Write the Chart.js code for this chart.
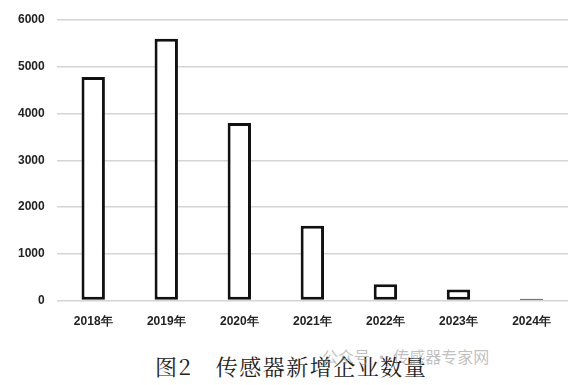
<!DOCTYPE html>
<html>
<head>
<meta charset="utf-8">
<script src="https://cdn.jsdelivr.net/npm/chart.js@4"></script>
<style>
  html, body { margin: 0; padding: 0; background: #fff; }
  #wrap { position: relative; width: 586px; height: 385px; }
  #box { position: absolute; left: 0; top: 0; width: 586px; height: 339px; }
  #caption {
    position: absolute; left: 155px; top: 350px;
    font-family: "Noto Serif CJK SC", "Noto Sans CJK SC", serif;
    font-size: 22px; letter-spacing: 1.5px; color: #222; white-space: pre;
  }
  #mark {
    position: absolute; left: 322px; top: 344px;
    font-family: "Noto Sans CJK SC", sans-serif;
    font-size: 16px; color: rgba(150,150,150,0.6); white-space: pre;
  }
</style>
</head>
<body>
<div id="wrap">
  <div id="box"><canvas id="chart"></canvas></div>
  <div id="caption">图2　传感器新增企业数量</div>
  <div id="mark">公众号 · 传感器专家网</div>
</div>
<script>
const years = ["2018年", "2019年", "2020年", "2021年", "2022年", "2023年", "2024年"];
const newFirms = [4780, 5600, 3800, 1600, 350, 240, 40];
const yTicks = [0, 1000, 2000, 3000, 4000, 5000, 6000];

const ctx = document.getElementById("chart");
new Chart(ctx, {
  type: "bar",
  data: {
    labels: years,
    datasets: [
      {
        data: newFirms,
        backgroundColor: "#ffffff",
        borderColor: "#111111",
        borderWidth: 3,
        borderSkipped: false,
        barPercentage: 0.64,
        categoryPercentage: 0.5,
      },
    ],
  },
  options: {
    responsive: true,
    maintainAspectRatio: false,
    animation: false,
    layout: { padding: { top: 20, right: 18, left: 6, bottom: 4 } },
    plugins: { legend: { display: false }, tooltip: { enabled: false } },
    scales: {
      x: {
        grid: { display: false },
        border: { display: false },
        ticks: {
          color: "#222",
          font: { family: "Liberation Sans", size: 12, weight: 700 },
          padding: 6,
        },
      },
      y: {
        min: 0,
        max: 6000,
        afterBuildTicks: (axis) => {
          axis.ticks = yTicks.map((v) => ({ value: v }));
        },
        grid: { color: "#d4d4d4", lineWidth: 1.5, drawTicks: false },
        border: { display: false },
        ticks: {
          color: "#222",
          font: { family: "Liberation Sans", size: 12, weight: 700 },
          padding: 12,
          callback: (v) => String(v),
        },
      },
    },
  },
});
</script>
</body>
</html>
